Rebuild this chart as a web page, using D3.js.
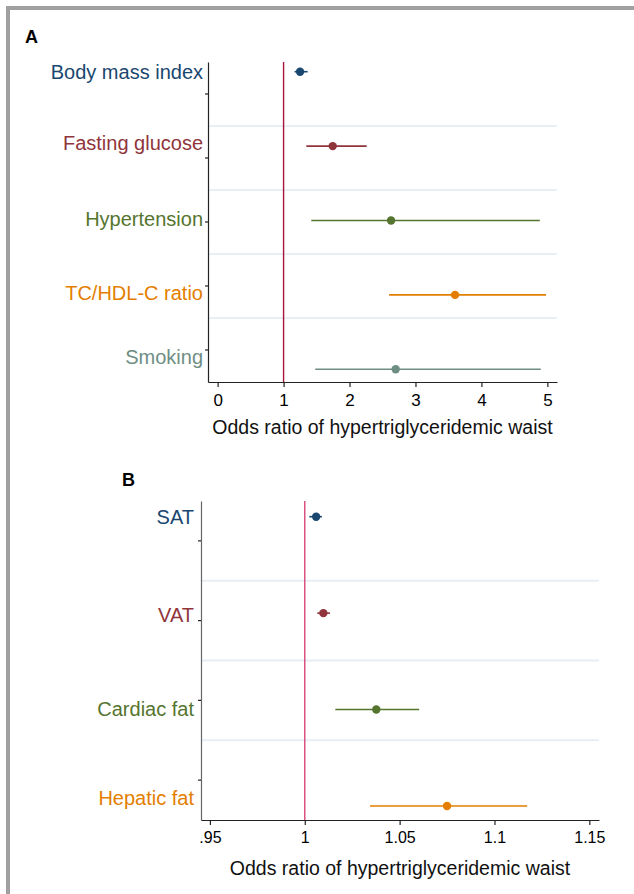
<!DOCTYPE html>
<html>
  <head>
    <meta charset="utf-8">
    <title>Odds ratio of hypertriglyceridemic waist</title>
    <script src="https://d3js.org/d3.v7.min.js"></script>
    <style>
      body {
        margin: 0;
        background: #fff;
        font-family: "Liberation Sans", Arial, Helvetica, sans-serif;
      }
      .frame {
        fill: #a0a0a0;
      }
      .panel-letter {
        font-size: 18px;
        font-weight: bold;
        fill: #000;
      }
      .row-label {
        font-size: 20px;
        text-anchor: end;
      }
      .separator {
        stroke: #e8eef1;
        stroke-width: 2px;
      }
      .axis-title {
        font-size: 19.5px;
        fill: #111;
        text-anchor: middle;
      }
      .x-axis path, .x-axis line, .y-axis path, .y-axis line {
        stroke: #222;
        stroke-width: 1.2px;
      }
      .x-axis text {
        fill: #000;
      }
      .ci {
        stroke-width: 1.6px;
      }
    </style>
  </head>
  <body>

    <div id="chart"></div>

    <script>
      // Panel A: risk factors
      const factorsA = ["Body mass index", "Fasting glucose", "Hypertension", "TC/HDL-C ratio", "Smoking"];
      const oddsA = [1.25, 1.745, 2.63, 3.6, 2.7];
      const lowerA = [1.167, 1.345, 1.42, 2.6, 1.48];
      const upperA = [1.365, 2.26, 4.885, 4.98, 4.9];
      const ticksA = [0, 1, 2, 3, 4, 5];
      const tickLabelsA = ["0", "1", "2", "3", "4", "5"];

      // Panel B: fat depots
      const factorsB = ["SAT", "VAT", "Cardiac fat", "Hepatic fat"];
      const oddsB = [1.006, 1.0098, 1.0377, 1.075];
      const lowerB = [1.0024, 1.0066, 1.0161, 1.0344];
      const upperB = [1.009, 1.0133, 1.0603, 1.1172];
      const ticksB = [0.95, 1, 1.05, 1.1, 1.15];
      const tickLabelsB = [".95", "1", "1.05", "1.1", "1.15"];

      const axisTitle = "Odds ratio of hypertriglyceridemic waist";
      // stata s2color palette
      const palette = ["#1a476f", "#90353b", "#55752f", "#e37e00", "#6e8e84"];

      const width = 634;
      const height = 894;

      const svg = d3.select("#chart").append("svg")
        .attr("width", width)
        .attr("height", height);

      svg.append("rect").attr("width", width).attr("height", height).attr("fill", "#fff");

      // grey frame, only left and top edges visible
      svg.append("rect").attr("class", "frame")
        .attr("x", 6).attr("y", 6).attr("width", width - 6).attr("height", 4);
      svg.append("rect").attr("class", "frame")
        .attr("x", 6).attr("y", 6).attr("width", 4).attr("height", height - 6);

      function drawPanel(p) {
        const g = svg.append("g");

        const x = d3.scaleLinear().domain(p.xDomain).range([p.left, p.right]);
        const y = d3.scalePoint().domain(p.factors).range(p.rowRange);
        const band = d3.scaleBand().domain(p.factors).range([p.top, p.bottom]);

        g.append("text").attr("class", "panel-letter")
          .attr("x", p.letterPos[0]).attr("y", p.letterPos[1])
          .text(p.letter);

        // light separators between bands
        g.selectAll(".separator")
          .data(p.factors.slice(1))
          .enter().append("line")
            .attr("class", "separator")
            .attr("x1", p.left + 1).attr("x2", p.right)
            .attr("y1", d => band(d)).attr("y2", d => band(d));

        // left axis with short ticks at band centres
        const yAxis = d3.axisLeft(band).tickSize(3).tickSizeOuter(0).tickFormat("");
        g.append("g").attr("class", "y-axis")
          .attr("transform", `translate(${p.left},0)`)
          .call(yAxis)
          .select(".domain").attr("stroke", p.yAxisColor).style("stroke", p.yAxisColor);

        // x axis
        const xAxis = d3.axisBottom(x)
          .tickValues(p.ticks)
          .tickFormat((d, i) => p.tickLabels[i])
          .tickSize(5)
          .tickSizeOuter(0);
        const xg = g.append("g").attr("class", "x-axis")
          .attr("transform", `translate(0,${p.bottom})`)
          .call(xAxis);
        xg.selectAll("text")
          .attr("font-family", "Liberation Sans, Arial, sans-serif")
          .attr("font-size", p.tickFont)
          .attr("y", p.tickLabelY)
          .attr("dy", 0);

        g.append("text").attr("class", "axis-title")
          .attr("x", (p.left + p.right) / 2)
          .attr("y", p.titleY)
          .text(axisTitle);

        // null line at OR = 1
        g.append("line")
          .attr("x1", x(1)).attr("x2", x(1))
          .attr("y1", p.top).attr("y2", p.bottom)
          .attr("stroke", p.refColor)
          .attr("stroke-width", 1.4);

        const rows = p.factors.map((f, i) => ({
          name: f, or: p.odds[i], lo: p.lower[i], hi: p.upper[i],
          color: palette[i], nudge: p.labelNudge[i]
        }));

        g.selectAll(".row-label")
          .data(rows)
          .enter().append("text")
            .attr("class", "row-label")
            .attr("x", p.left - p.labelGap)
            .attr("y", d => y(d.name) + d.nudge)
            .attr("dy", "0.35em")
            .attr("fill", d => d.color)
            .text(d => d.name);

        g.selectAll(".ci")
          .data(rows)
          .enter().append("line")
            .attr("class", "ci")
            .attr("x1", d => x(d.lo)).attr("x2", d => x(d.hi))
            .attr("y1", d => y(d.name)).attr("y2", d => y(d.name))
            .attr("stroke", d => d.color);

        g.selectAll(".pt")
          .data(rows)
          .enter().append("circle")
            .attr("class", "pt")
            .attr("cx", d => x(d.or))
            .attr("cy", d => y(d.name))
            .attr("r", 4.2)
            .attr("fill", d => d.color);
      }

      drawPanel({
        letter: "A", letterPos: [25, 43],
        factors: factorsA, odds: oddsA, lower: lowerA, upper: upperA,
        ticks: ticksA, tickLabels: tickLabelsA,
        xDomain: [-0.146, 5.146], left: 208, right: 557,
        top: 62, bottom: 382, rowRange: [71.7, 369.3],
        labelNudge: [0, -3.3, -1.4, -1.7, -12.6], labelGap: 5,
        tickFont: "17px", tickLabelY: 24, titleY: 434,
        refColor: "#a8153c", yAxisColor: "#222"
      });

      drawPanel({
        letter: "B", letterPos: [122, 486],
        factors: factorsB, odds: oddsB, lower: lowerB, upper: upperB,
        ticks: ticksB, tickLabels: tickLabelsB,
        xDomain: [0.9453, 1.1551], left: 201, right: 599,
        top: 501, bottom: 820, rowRange: [516.7, 806],
        labelNudge: [0, 2.3, -1, -8.3], labelGap: 7,
        tickFont: "16px", tickLabelY: 23, titleY: 875,
        refColor: "#d8467a", yAxisColor: "#666"
      });
    </script>
  </body>
</html>
